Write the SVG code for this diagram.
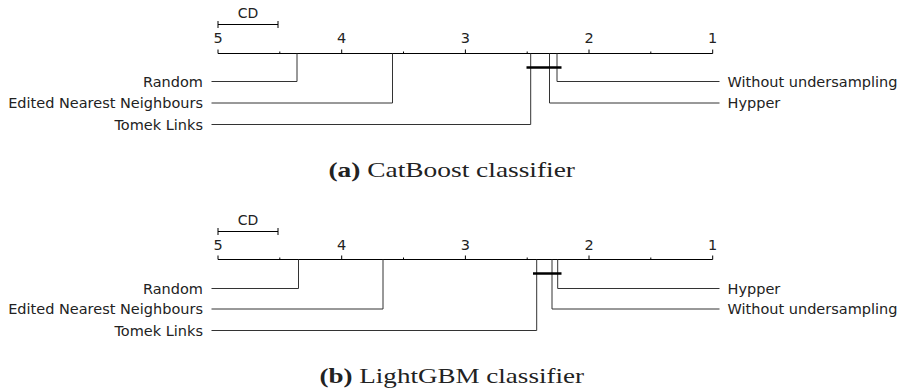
<svg xmlns="http://www.w3.org/2000/svg" width="907" height="392" viewBox="0 0 907 392">
<style>
.ax{stroke:#000;stroke-width:1;fill:none}
.ln{stroke:#333;stroke-width:1;fill:none}
.cq{stroke:#000;stroke-width:2.5;fill:none}
.lbl{font-family:"DejaVu Sans",sans-serif;font-size:14.5px;fill:#222}
.tk{font-family:"DejaVu Sans",sans-serif;font-size:14.5px;fill:#222;text-anchor:middle}
.cd{font-family:"DejaVu Sans",sans-serif;font-size:14px;fill:#222;text-anchor:middle}
.cap{font-family:"Liberation Serif",serif;font-size:21px;fill:#222}
.l{text-anchor:end}
</style>
<rect width="907" height="392" fill="#fff"/>

<!-- Panel (a) -->
<g id="panel-a">
<g id="axis-a">
<path class="ax" d="M218,53.5H712.7M218,53.5V49.5M341.7,53.5V49.5M465.4,53.5V49.5M589,53.5V49.5M712.7,53.5V49.5M279.8,53.5V51.5M403.5,53.5V51.5M527.2,53.5V51.5M650.8,53.5V51.5"/>
<text class="tk" x="218" y="43">5</text>
<text class="tk" x="341.7" y="43">4</text>
<text class="tk" x="465.4" y="43">3</text>
<text class="tk" x="589" y="43">2</text>
<text class="tk" x="712.7" y="43">1</text>
</g>
<g id="cd-a">
<path class="ax" d="M218,24.5H278M218,21V28M278,21V28"/>
<text class="cd" x="248" y="18">CD</text>
</g>
<g id="connectors-a">
<path class="ln" d="M297,53.5V81.5H211.5"/>
<path class="ln" d="M392.5,53.5V103H211.5"/>
<path class="ln" d="M530.7,53.5V124.5H211.5"/>
<path class="ln" d="M557,53.5V81.5H719.5"/>
<path class="ln" d="M549.5,53.5V103H719.5"/>
<path class="cq" d="M526.5,67.5H561.5"/>
</g>
<g id="node-a-random"><text class="lbl l" x="203" y="86.5">Random</text></g>
<g id="node-a-enn"><text class="lbl l" x="203" y="108">Edited Nearest Neighbours</text></g>
<g id="node-a-tomek"><text class="lbl l" x="203" y="129.5">Tomek Links</text></g>
<g id="node-a-without"><text class="lbl" x="727.5" y="86.5">Without undersampling</text></g>
<g id="node-a-hypper"><text class="lbl" x="727.5" y="108">Hypper</text></g>
<text class="cap" x="328.5" y="177" textLength="246.5" lengthAdjust="spacingAndGlyphs"><tspan font-weight="bold">(a)</tspan> CatBoost classifier</text>
</g>

<!-- Panel (b) -->
<g id="panel-b">
<g id="axis-b">
<path class="ax" d="M218,259.5H712.7M218,259.5V255.5M341.7,259.5V255.5M465.4,259.5V255.5M589,259.5V255.5M712.7,259.5V255.5M279.8,259.5V257.5M403.5,259.5V257.5M527.2,259.5V257.5M650.8,259.5V257.5"/>
<text class="tk" x="218" y="249.5">5</text>
<text class="tk" x="341.7" y="249.5">4</text>
<text class="tk" x="465.4" y="249.5">3</text>
<text class="tk" x="589" y="249.5">2</text>
<text class="tk" x="712.7" y="249.5">1</text>
</g>
<g id="cd-b">
<path class="ax" d="M218,231.5H278M218,228V235M278,228V235"/>
<text class="cd" x="248" y="225">CD</text>
</g>
<g id="connectors-b">
<path class="ln" d="M298.5,259.5V288.5H211.5"/>
<path class="ln" d="M383,259.5V309H211.5"/>
<path class="ln" d="M536.7,259.5V330.5H211.5"/>
<path class="ln" d="M557.7,259.5V288.5H719.5"/>
<path class="ln" d="M552,259.5V309H719.5"/>
<path class="cq" d="M533,273.5H561.5"/>
</g>
<g id="node-b-random"><text class="lbl l" x="203" y="293.5">Random</text></g>
<g id="node-b-enn"><text class="lbl l" x="203" y="314">Edited Nearest Neighbours</text></g>
<g id="node-b-tomek"><text class="lbl l" x="203" y="335.5">Tomek Links</text></g>
<g id="node-b-hypper"><text class="lbl" x="727.5" y="293.5">Hypper</text></g>
<g id="node-b-without"><text class="lbl" x="727.5" y="314">Without undersampling</text></g>
<text class="cap" x="319.5" y="383" textLength="264.5" lengthAdjust="spacingAndGlyphs"><tspan font-weight="bold">(b)</tspan> LightGBM classifier</text>
</g>
</svg>
